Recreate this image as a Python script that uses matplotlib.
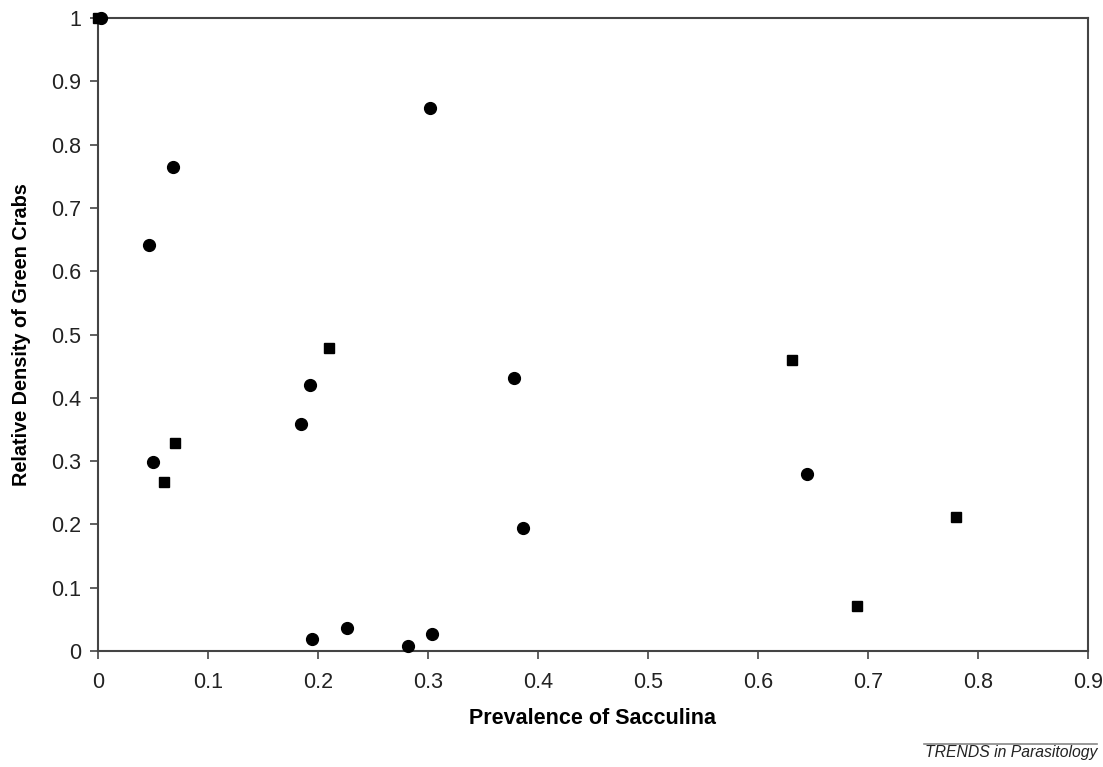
import numpy as np
import matplotlib.pyplot as plt

plt.rcParams['font.family'] = ['Liberation Sans', 'DejaVu Sans']

# circles
circ_x = [0.003, 0.302, 0.068, 0.046, 0.050, 0.185, 0.193, 0.378, 0.386, 0.645,
          0.195, 0.226, 0.282, 0.304]
circ_y = [1.000, 0.858, 0.765, 0.641, 0.299, 0.359, 0.420, 0.431, 0.194, 0.280,
          0.019, 0.036, 0.008, 0.027]
# squares
sq_x = [0.000, 0.210, 0.070, 0.060, 0.631, 0.690, 0.780]
sq_y = [1.000, 0.479, 0.329, 0.267, 0.460, 0.071, 0.212]

xticks = np.arange(0, 0.91, 0.1)
yticks = np.arange(0, 1.01, 0.1)

fig = plt.figure(figsize=(11.03, 7.67), dpi=100)
ax = fig.add_axes([0.0888, 0.1512, 0.8976, 0.8253])

ax.plot(sq_x, sq_y, 's', color='black', markersize=6.5, clip_on=False, zorder=3)
ax.plot(circ_x, circ_y, 'o', color='black', markersize=8.5, clip_on=False, zorder=4)

ax.set_xlim(0, 0.9)
ax.set_ylim(0, 1)
ax.set_xticks(xticks)
ax.set_yticks(yticks)
ax.set_xticklabels(['0' if v == 0 else f'{v:g}' for v in np.round(xticks, 1)])
ax.set_yticklabels(['0' if v == 0 else f'{v:g}' for v in np.round(yticks, 1)])
ax.tick_params(direction='out', length=6, width=1.2, color='#444444',
               labelsize=15.5, colors='#222222')
ax.tick_params(axis='x', pad=9)
ax.tick_params(axis='y', pad=6)
ax.tick_params(color='#444444')

for s in ax.spines.values():
    s.set_color('#444444')
    s.set_linewidth(1.5)

ax.set_xlabel('Prevalence of Sacculina', fontsize=15.5, fontweight='bold', labelpad=11)
ax.set_ylabel('Relative Density of Green Crabs', fontsize=14.3, fontweight='bold', labelpad=14.5)

fig.text(0.995, 0.0085, 'TRENDS in Parasitology', ha='right', va='bottom',
         fontsize=11.3, style='italic', color='#222222')
fig.add_artist(plt.Line2D([0.838, 0.995], [0.030, 0.030], color='#888888', linewidth=1.2))

fig.savefig('out.png', dpi=100)
